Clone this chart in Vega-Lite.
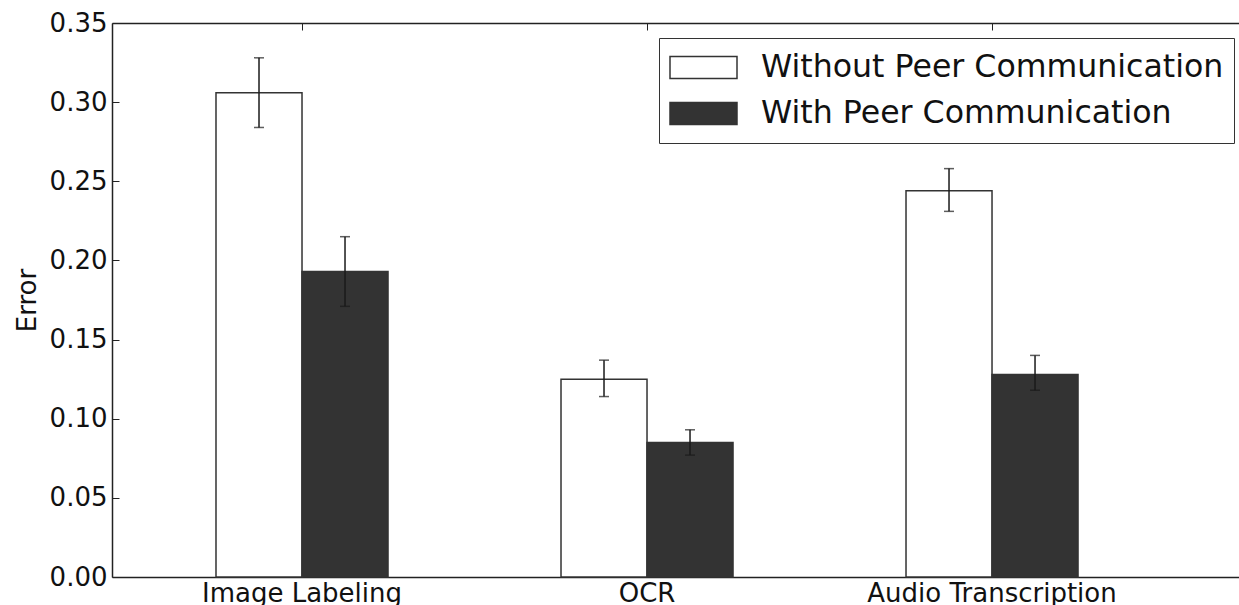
{
  "$schema": "https://vega.github.io/schema/vega-lite/v6.json",
  "width": 1127,
  "height": 554,
  "autosize": {"type": "none"},
  "padding": {"left": 112, "top": 23, "right": 0, "bottom": 28},
  "background": "white",
  "data": {
    "values": [
      {"task": "Image Labeling", "cond": "Without Peer Communication", "value": 0.306, "lo": 0.284, "hi": 0.328},
      {"task": "Image Labeling", "cond": "With Peer Communication", "value": 0.193, "lo": 0.171, "hi": 0.215},
      {"task": "OCR", "cond": "Without Peer Communication", "value": 0.125, "lo": 0.114, "hi": 0.137},
      {"task": "OCR", "cond": "With Peer Communication", "value": 0.085, "lo": 0.077, "hi": 0.093},
      {"task": "Audio Transcription", "cond": "Without Peer Communication", "value": 0.244, "lo": 0.231, "hi": 0.258},
      {"task": "Audio Transcription", "cond": "With Peer Communication", "value": 0.128, "lo": 0.118, "hi": 0.140}
    ]
  },
  "encoding": {
    "x": {
      "field": "task", "type": "nominal", "axis": null,
      "scale": {"domain": ["Image Labeling", "OCR", "Audio Transcription"], "paddingInner": 0.5014, "paddingOuter": 0.384, "align": 0.3925, "round": false}
    },
    "xOffset": {
      "field": "cond", "type": "nominal",
      "scale": {"domain": ["Without Peer Communication", "With Peer Communication"], "paddingInner": 0, "paddingOuter": 0, "round": false}
    }
  },
  "layer": [
    {
      "mark": {"type": "bar", "stroke": "#333333", "strokeWidth": 1.5, "opacity": 1},
      "encoding": {
        "x": {
          "field": "task", "type": "nominal",
          "axis": {"orient": "bottom", "title": null, "labelAngle": 0, "tickSize": -7, "labelPadding": 10, "labelBaseline": "top", "labelLimit": 500}
        },
        "y": {
          "field": "value", "type": "quantitative", "title": "Error",
          "scale": {"domain": [0, 0.35], "nice": false, "zero": true},
          "axis": {"title": "Error", "values": [0, 0.05, 0.1, 0.15, 0.2, 0.25, 0.3, 0.35], "format": ".2f", "tickSize": -7, "labelPadding": 12, "titlePadding": 9, "titleFontSize": 26, "titleFont": "DejaVu Sans", "titleFontWeight": "normal", "titleColor": "#111"}
        },
        "fill": {
          "field": "cond", "type": "nominal",
          "scale": {"domain": ["Without Peer Communication", "With Peer Communication"], "range": ["#ffffff", "#333333"]},
          "legend": {
            "orient": "none", "legendX": 547, "legendY": 15, "title": null,
            "symbolType": "M-1,-0.328H1V0.328H-1Z", "symbolSize": 4489,
            "symbolStrokeColor": "#333333", "symbolStrokeWidth": 1.5,
            "labelFont": "DejaVu Sans", "labelFontSize": 31.6, "labelColor": "#111111",
            "labelOffset": 23, "labelLimit": 0,
            "strokeColor": "#333333", "fillColor": "white",
            "padding": 10, "clipHeight": 39, "rowPadding": 7
          }
        }
      }
    },
    {
      "mark": {"type": "rule", "color": "#1a1a1a", "strokeWidth": 1.5},
      "encoding": {
        "x": {"field": "task", "type": "nominal", "axis": {"orient": "top", "title": null, "labels": false, "tickSize": -7}},
        "y": {"field": "lo", "type": "quantitative", "title": "Error"},
        "y2": {"field": "hi"}
      }
    },
    {
      "mark": {"type": "tick", "orient": "horizontal", "color": "#1a1a1a", "size": 10, "thickness": 1.5},
      "encoding": {
        "y": {"field": "lo", "type": "quantitative", "title": "Error"}
      }
    },
    {
      "mark": {"type": "tick", "orient": "horizontal", "color": "#1a1a1a", "size": 10, "thickness": 1.5},
      "encoding": {
        "y": {"field": "hi", "type": "quantitative", "title": "Error"}
      }
    }
  ],
  "resolve": {"axis": {"x": "independent"}},
  "config": {
    "view": {"stroke": null},
    "font": "DejaVu Sans",
    "axis": {
      "grid": false,
      "domainColor": "#222222", "domainWidth": 1.5,
      "tickColor": "#222222", "tickWidth": 1,
      "labelFont": "DejaVu Sans", "labelFontSize": 26, "labelColor": "#111111"
    }
  }
}
